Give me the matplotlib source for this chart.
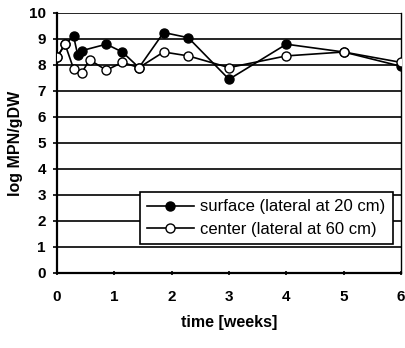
import matplotlib
matplotlib.use("Agg")
import matplotlib.pyplot as plt

# sampling times (weeks) and log MPN/gDW counts
t_surface = [0.0, 0.14, 0.29, 0.36, 0.43, 0.86, 1.14, 1.43, 1.86, 2.29, 3.0, 4.0, 5.0, 6.0]
surface = [8.3, 8.8, 9.1, 8.4, 8.55, 8.8, 8.5, 7.9, 9.25, 9.05, 7.45, 8.8, 8.5, 7.95]

t_center = [0.0, 0.14, 0.29, 0.43, 0.57, 0.86, 1.14, 1.43, 1.86, 2.29, 3.0, 4.0, 5.0, 6.0]
center = [8.3, 8.8, 7.85, 7.7, 8.2, 7.8, 8.1, 7.9, 8.5, 8.35, 7.9, 8.35, 8.5, 8.1]

x_ticks = [0, 1, 2, 3, 4, 5, 6]
y_ticks = list(range(0, 11))

plt.rcParams['font.family'] = ['Liberation Sans', 'DejaVu Sans']

fig = plt.figure(figsize=(4.05, 3.48), dpi=100)
ax = fig.add_axes([57 / 405, 1 - 273 / 348, 344 / 405, 260 / 348])

for y in y_ticks:
    ax.axhline(y, color='black', lw=1.2, zorder=1)

ax.plot(t_surface, surface, color='black', lw=1.2, marker='o', ms=6.5,
        mfc='black', mec='black', label='surface (lateral at 20 cm)', zorder=3)
ax.plot(t_center, center, color='black', lw=1.2, marker='o', ms=6.5,
        mfc='white', mec='black', label='center (lateral at 60 cm)', zorder=4)

ax.set_xlim(0, 6)
ax.set_ylim(0, 10)
ax.set_xticks(x_ticks)
ax.set_yticks(y_ticks)
ax.tick_params(axis='both', labelsize=11, length=3, width=1.2, color='black')
ax.tick_params(axis='x', direction='inout', pad=11)
ax.tick_params(axis='y', direction='out', pad=5)
for lbl in ax.get_xticklabels() + ax.get_yticklabels():
    lbl.set_fontweight('bold')

for side in ['left', 'bottom']:
    ax.spines[side].set_linewidth(1.6)
ax.spines['right'].set_linewidth(1.0)
ax.spines['top'].set_visible(False)

ax.set_xlabel('time [weeks]', fontsize=11.5, fontweight='bold', labelpad=8)
ax.set_ylabel('log MPN/gDW', fontsize=11.5, fontweight='bold')
ax.yaxis.set_label_coords(-0.098, 0.5)

leg = ax.legend(loc='lower right', bbox_to_anchor=(0.977, 0.11), fontsize=12,
                frameon=True, fancybox=False, edgecolor='black', framealpha=1,
                handlelength=2.8, handletextpad=0.4, borderpad=0.45,
                labelspacing=0.45, borderaxespad=0.0)
leg.get_frame().set_linewidth(1.2)

fig.savefig('out.png', dpi=100)
